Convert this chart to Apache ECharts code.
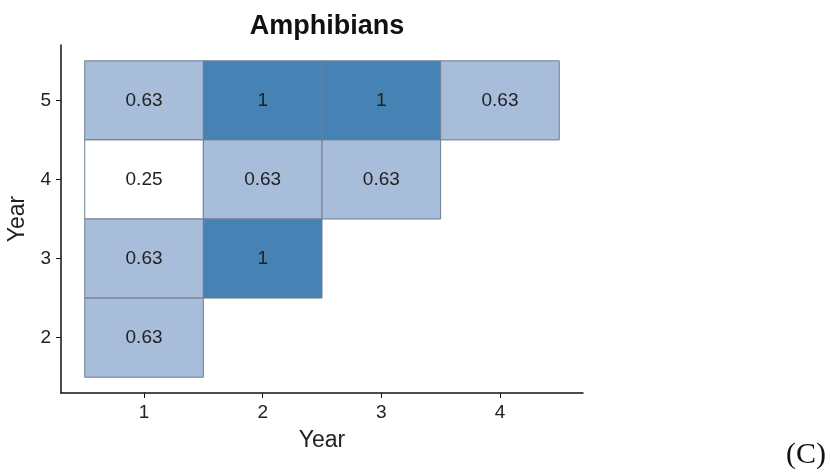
<!DOCTYPE html>
<html>
<head>
<meta charset="utf-8">
<script src="https://cdn.jsdelivr.net/npm/echarts@6/dist/echarts.min.js"></script>
<style>
  html, body { margin: 0; padding: 0; background: #fff; }
  #chart { width: 830px; height: 472px; }
</style>
</head>
<body>
<div id="chart"></div>
<script>
// cell data: [x year, y year, value]
const xYears = [1, 2, 3, 4];
const yYears = [2, 3, 4, 5];
const cells = [
  [1, 5, 0.63], [2, 5, 1], [3, 5, 1], [4, 5, 0.63],
  [1, 4, 0.25], [2, 4, 0.63], [3, 4, 0.63],
  [1, 3, 0.63], [2, 3, 1],
  [1, 2, 0.63],
];

// colour by value
const fillFor = (v) => {
  if (v >= 1) return '#4682B4';
  if (v >= 0.5) return '#A8BDDA';
  return '#FFFFFF';
};

const sans = 'Liberation Sans, Arial, sans-serif';
const chart = echarts.init(document.getElementById('chart'));

const axisText = { color: '#222', fontSize: 19, fontFamily: sans };

chart.setOption({
  animation: false,
  title: {
    text: 'Amphibians',
    left: 322,
    top: 8,
    textAlign: 'center',
    textStyle: { fontSize: 27, fontWeight: 'bold', color: '#111', fontFamily: sans },
  },
  grid: { left: 61, right: 247, top: 45, bottom: 79, outerBoundsMode: 'none' },
  xAxis: {
    type: 'value',
    min: 0.3,
    max: 4.7,
    name: 'Year',
    nameLocation: 'middle',
    nameGap: 36,
    nameTextStyle: { fontSize: 23, color: '#222', fontFamily: sans },
    splitLine: { show: false },
    axisLine: { lineStyle: { color: '#111', width: 1.5 } },
    axisTick: { customValues: xYears, length: 5, lineStyle: { color: '#111' } },
    axisLabel: { customValues: xYears, margin: 10, ...axisText },
  },
  yAxis: {
    type: 'value',
    min: 1.3,
    max: 5.7,
    name: 'Year',
    nameLocation: 'middle',
    nameGap: 27,
    nameRotate: 90,
    nameTextStyle: { fontSize: 23, color: '#222', fontFamily: sans },
    splitLine: { show: false },
    axisLine: { show: true, lineStyle: { color: '#111', width: 1.5 } },
    axisTick: { show: true, customValues: yYears, length: 5, lineStyle: { color: '#111' } },
    axisLabel: { customValues: yYears, margin: 10, ...axisText },
  },
  graphic: [
    {
      type: 'text',
      left: 786,
      top: 440,
      style: { text: '(C)', fontSize: 30, fill: '#111', fontFamily: 'Liberation Serif, Times New Roman, serif' },
    },
  ],
  series: [
    {
      type: 'custom',
      data: cells,
      renderItem: (params, api) => {
        const x = api.value(0);
        const y = api.value(1);
        const v = api.value(2);
        const p0 = api.coord([x - 0.5, y + 0.5]);
        const p1 = api.coord([x + 0.5, y - 0.5]);
        const c = api.coord([x, y]);
        return {
          type: 'group',
          children: [
            {
              type: 'rect',
              shape: { x: p0[0], y: p0[1], width: p1[0] - p0[0], height: p1[1] - p0[1] },
              style: { fill: fillFor(v), stroke: '#6F7F90', lineWidth: 1 },
            },
            {
              type: 'text',
              x: c[0],
              y: c[1],
              style: {
                text: String(v),
                align: 'center',
                verticalAlign: 'middle',
                fontSize: 19,
                fill: '#222',
                fontFamily: sans,
              },
            },
          ],
        };
      },
    },
  ],
});
</script>
</body>
</html>
